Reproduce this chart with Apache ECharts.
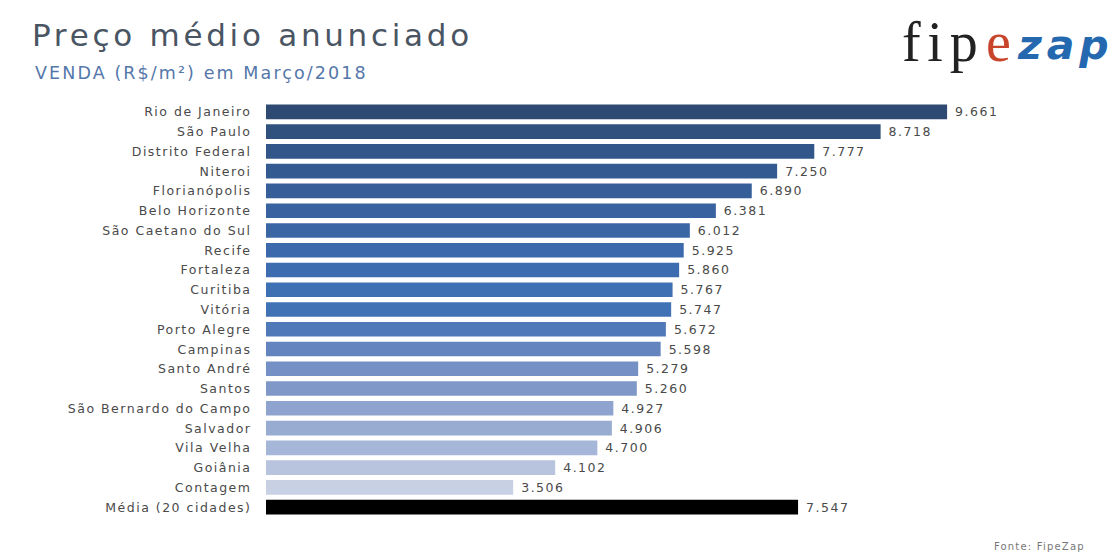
<!DOCTYPE html>
<html>
<head>
<meta charset="utf-8">
<script src="https://cdn.jsdelivr.net/npm/echarts@6/dist/echarts.min.js"></script>
<style>
html,body{margin:0;padding:0;background:#fff;}
#c{width:1119px;height:556px;}
#c text{letter-spacing:0.12em;}
</style>
</head>
<body>
<div id="c"></div>
<script>
const categories = ["Rio de Janeiro","São Paulo","Distrito Federal","Niteroi","Florianópolis","Belo Horizonte","São Caetano do Sul","Recife","Fortaleza","Curitiba","Vitória","Porto Alegre","Campinas","Santo André","Santos","São Bernardo do Campo","Salvador","Vila Velha","Goiânia","Contagem","Média (20 cidades)"];
const values = [9661,8718,7777,7250,6890,6381,6012,5925,5860,5767,5747,5672,5598,5279,5260,4927,4906,4700,4102,3506,7547];
const palette = ["#2e4a72","#30507e","#32558a","#345a92","#365f99","#3862a0","#3a66a6","#3c69ab","#3e6cb0","#4070b4","#4272b6","#5079ba","#6484c0","#7490c4","#7f98c8","#8ea3cd","#98acd2","#a6b6d8","#b8c3de","#c8d0e4","#000000"];

const F = "'DejaVu Sans'";
const S = "'Liberation Serif'";
const chart = echarts.init(document.getElementById('c'), null, {renderer:'svg'});
chart.setOption({
  backgroundColor:'#ffffff',
  animation:false,
  title:[
    {text:'Preço médio anunciado', left:27, top:14, textStyle:{fontFamily:F, fontSize:31, fontWeight:'normal', color:'#4a5563'}},
    {text:'VENDA (R$/m²) em Março/2018', left:30, top:59, textStyle:{fontFamily:F, fontSize:17.5, fontWeight:'normal', color:'#5577aa'}},
    {text:'fip', left:902, top:14, padding:0, textStyle:{fontFamily:S, fontSize:56, fontWeight:'normal', color:'#222'}},
    {text:'e', left:986, top:14, padding:0, textStyle:{fontFamily:S, fontSize:56, fontWeight:'normal', color:'#c8452c'}},
    {text:'zap', left:1018, top:24, padding:0, textStyle:{fontFamily:F, fontSize:41, fontWeight:'bold', fontStyle:'italic', color:'#2468b0'}},
    {text:'Fonte: FipeZap', right:46, bottom:0, textStyle:{fontFamily:F, fontSize:10, fontWeight:'normal', color:'#777'}}
  ],
  grid:{left:266, top:102, width:705, height:415, containLabel:false},
  xAxis:{type:'value', min:0, max:10000, show:false},
  yAxis:{type:'category', data:categories, inverse:true,
    axisLine:{show:false}, axisTick:{show:false},
    axisLabel:{margin:14.5, fontFamily:F, fontSize:12.5, color:'#4a4a4a'}},
  series:[{
    type:'bar',
    data: values.map((v,i)=>({value:v, itemStyle:{color:palette[i]}})),
    barCategoryGap:'26%',
    label:{show:true, position:'right', distance:8, fontFamily:F, fontSize:12.5, color:'#4a4a4a',
      formatter:p=>(p.value/1000).toFixed(3)}
  }]
});
</script>
</body>
</html>
